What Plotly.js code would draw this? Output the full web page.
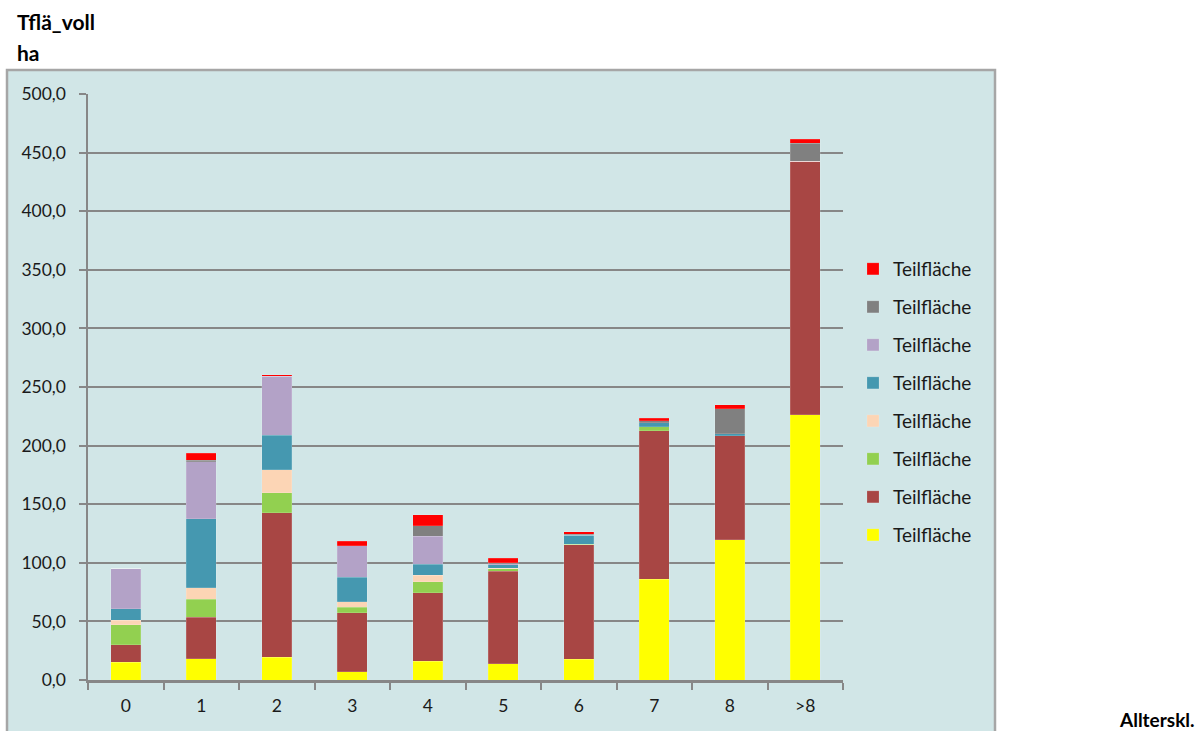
<!DOCTYPE html>
<html>
<head>
<meta charset="utf-8">
<script src="https://cdn.plot.ly/plotly-3.0.1.min.js"></script>
<style>html,body{margin:0;padding:0;background:#fff;}#chart{width:1204px;height:731px;}</style>
</head>
<body>
<div id="chart"></div>
<script>
const categories = ["0","1","2","3","4","5","6","7","8",">8"];
const seriesNames = ["Teilfläche","Teilfläche","Teilfläche","Teilfläche","Teilfläche","Teilfläche","Teilfläche","Teilfläche"];
const yellowVals = [15, 18, 19.4, 7.1, 16.2, 14, 17.7, 85.8, 119.7, 226.5];
const darkRedVals = [15, 35.6, 123.1, 50.2, 58.2, 78.6, 97.6, 127, 88.8, 216.2];
const greenVals = [17, 15.4, 17.1, 4.8, 9.6, 2.2, 0.7, 3.4, 0, 0];
const peachVals = [4, 9.7, 19.6, 4.6, 5.5, 0.5, 0, 0, 0, 0];
const tealVals = [10, 59, 29.6, 21, 9.4, 3.2, 7.5, 3.5, 1.8, 0];
const purpleVals = [34, 48.4, 50.2, 26.8, 23.6, 0.5, 0, 0, 0, 0];
const grayVals = [0, 1.6, 0, 0, 9.1, 1, 0.7, 1.7, 21.1, 15.4];
const redVals = [0, 5.8, 1.4, 3.7, 9.2, 4, 2.3, 1.9, 3.4, 3.2];
const yTicks = [0,50,100,150,200,250,300,350,400,450,500];

const seriesValues = [yellowVals, darkRedVals, greenVals, peachVals, tealVals, purpleVals, grayVals, redVals];
const colors = ["#FFFF00", "#A84644", "#92D050", "#FCD5B5", "#4598B0", "#B3A2C7", "#808080", "#FF0000"];

const FONT = "Lato, 'Open Sans', 'Liberation Sans', sans-serif";

const traces = seriesValues.map((vals, i) => ({
  type: "bar",
  name: seriesNames[i],
  x: categories,
  y: vals,
  legendgroup: "g" + i,
  legendrank: 100 - i,
  marker: {color: colors[i], line: {width: 0.5, color: "rgba(255,255,255,0.3)"}},
  hoverinfo: "y"
}));

// plot area: x 88..843, y 94..680
const PL = 88, PR = 843, PT = 94, PB = 680;
const W = PR - PL, H = PB - PT;
const px = v => (v - PL) / W;
const py = v => (PB - v) / H;

const layout = {
  width: 1204, height: 731,
  margin: {l: PL, r: 1204 - PR, t: PT, b: 731 - PB, pad: 0},
  paper_bgcolor: "#ffffff",
  plot_bgcolor: "rgba(0,0,0,0)",
  barmode: "stack",
  bargap: 0.6,
  separators: ",.",
  font: {family: FONT, size: 17, color: "#1a1a1a"},
  showlegend: true,
  legend: {
    x: px(853), y: py(250), xanchor: "left", yanchor: "top",
    traceorder: "grouped",
    tracegroupgap: 10.3,
    bgcolor: "rgba(0,0,0,0)",
    font: {family: FONT, size: 19, color: "#1a1a1a"}
  },
  xaxis: {
    type: "category",
    showline: true, linecolor: "#878787", linewidth: 2.5,
    ticks: "outside", tickson: "boundaries", ticklen: 7, tickwidth: 2, tickcolor: "#878787",
    ticklabelstandoff: 8,
    showgrid: false, zeroline: false,
    tickfont: {family: FONT, size: 17.5, color: "#1a1a1a"},
    fixedrange: true
  },
  yaxis: {
    range: [0, 500],
    tickvals: yTicks,
    tickformat: ".1f",
    showline: true, linecolor: "#878787", linewidth: 2.5,
    ticks: "outside", ticklen: 7, tickwidth: 2, tickcolor: "#878787",
    ticklabelstandoff: 9,
    showgrid: true, gridcolor: "#878787", gridwidth: 2,
    zeroline: false,
    tickfont: {family: FONT, size: 17.5, color: "#1a1a1a"},
    fixedrange: true
  },
  shapes: [
    {type: "rect", xref: "paper", yref: "paper", layer: "below",
     x0: px(7), x1: px(995), y0: py(740), y1: py(70),
     fillcolor: "#D1E6E7", line: {color: "#A6A6A6", width: 2.5}}
  ],
  annotations: [
    {xref: "paper", yref: "paper", x: px(15), y: py(22), xanchor: "left", yanchor: "middle",
     text: "<b>Tflä_voll</b>", showarrow: false, font: {family: FONT, size: 21, color: "#000"}},
    {xref: "paper", yref: "paper", x: px(15), y: py(53), xanchor: "left", yanchor: "middle",
     text: "<b>ha</b>", showarrow: false, font: {family: FONT, size: 21, color: "#000"}},
    {xref: "paper", yref: "paper", x: px(1197), y: py(719), xanchor: "right", yanchor: "middle",
     text: "<b>Allterskl.</b>", showarrow: false, font: {family: FONT, size: 19, color: "#000"}}
  ]
};

Plotly.newPlot("chart", traces, layout, {displayModeBar: false, staticPlot: true});
</script>
</body>
</html>
